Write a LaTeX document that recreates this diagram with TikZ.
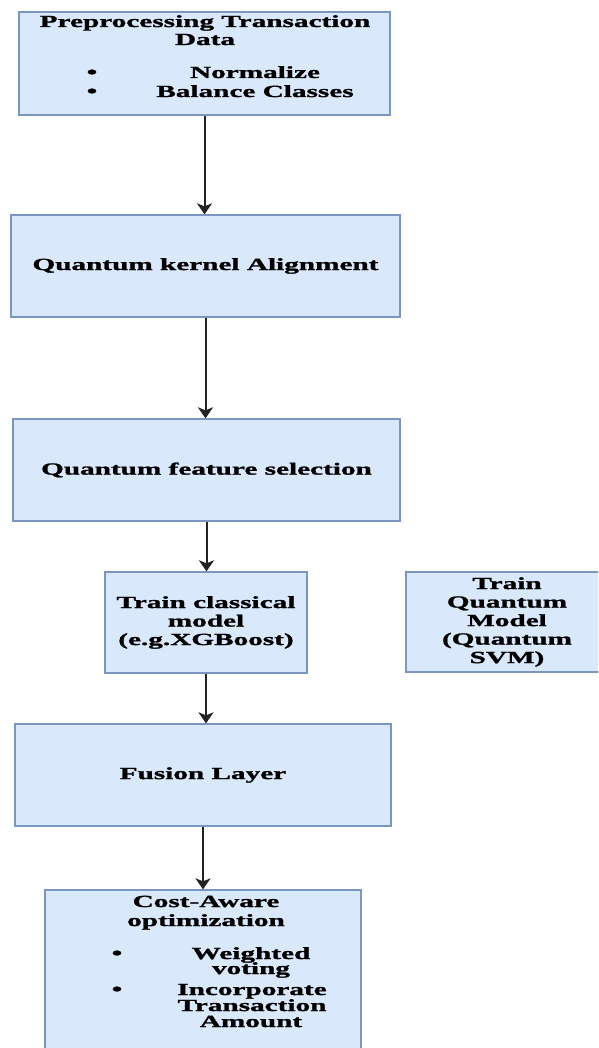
\documentclass[tikz,border=0pt]{standalone}
\usepackage{fontspec}
\setmainfont{Liberation Serif}[FakeStretch=1.72, FakeBold=1.4]
\usetikzlibrary{arrows.meta}
\definecolor{boxfill}{HTML}{DAE8FC}
\definecolor{boxline}{HTML}{7C96C2}
\definecolor{arrowc}{HTML}{222222}
\tikzset{
  box/.style={draw=boxline, fill=boxfill, line width=1.3pt, rectangle, inner sep=0pt,
    align=center, font=\fontsize{17}{18.5}\selectfont\bfseries},
  txt/.style={anchor=base, inner sep=0pt, text height=11pt, text depth=2.5pt,
    font=\fontsize{17}{18.5}\selectfont\bfseries},
  bul/.style={anchor=base, inner sep=0pt, text height=8pt, text depth=0pt,
    font=\fontsize{18}{18}\selectfont\bfseries},
  flow/.style={draw=arrowc, line width=2pt, -{Stealth[width=15pt,length=11pt,inset=3pt]}}
}
\begin{document}
\begin{tikzpicture}[x=1pt,y=-1pt]
\useasboundingbox (0,0) rectangle (598,1048);
\clip (0,0) rectangle (598,1048);
% boxes
\node[box, minimum width=371pt, minimum height=103pt] (b1) at (204.5,63.5) {};
\node[box, minimum width=389pt, minimum height=102pt] (b2) at (205.5,266) {Quantum kernel Alignment};
\node[box, minimum width=387pt, minimum height=102pt] (b3) at (206.5,470) {Quantum feature selection};
\node[box, minimum width=202pt, minimum height=101pt] (b4) at (206,622.5) {Train classical\\model\\(e.g.XGBoost)};
\node[box, minimum width=202pt, minimum height=100pt] (b5) at (507,622) {Train\\Quantum\\Model\\(Quantum\\SVM)};
\node[box, minimum width=376pt, minimum height=102pt] (b6) at (203,775) {Fusion Layer};
\node[box, minimum width=316pt, minimum height=180pt] (b7) at (203,980) {};
% box 1 text
\node[txt] (t1a) at (205,27) {Preprocessing Transaction};
\node[txt] (t1b) at (205,45) {Data};
\node[bul] (t1c) at (92,78) {•};
\node[txt] (t1d) at (255,78) {Normalize};
\node[bul] (t1e) at (92,97) {•};
\node[txt] (t1f) at (255,97) {Balance Classes};
% box 7 text
\node[txt] (t7a) at (206,907) {Cost-Aware};
\node[txt] (t7b) at (206,926) {optimization};
\node[bul] (t7c) at (117,959) {•};
\node[txt] (t7d) at (251,959) {Weighted};
\node[txt] (t7e) at (251,974) {voting};
\node[bul] (t7f) at (117,995) {•};
\node[txt] (t7g) at (252,995) {Incorporate};
\node[txt] (t7h) at (252,1011) {Transaction};
\node[txt] (t7i) at (251,1027) {Amount};
% connectors
\draw[flow] (b1.south) -- (b1.south |- b2.north);
\draw[flow] (b2.south) -- (b2.south |- b3.north);
\draw[flow] (b3.south) -- (b3.south |- b4.north);
\draw[flow] (b4.south) -- (b4.south |- b6.north);
\draw[flow] (b6.south) -- (b6.south |- b7.north);
\end{tikzpicture}
\end{document}
